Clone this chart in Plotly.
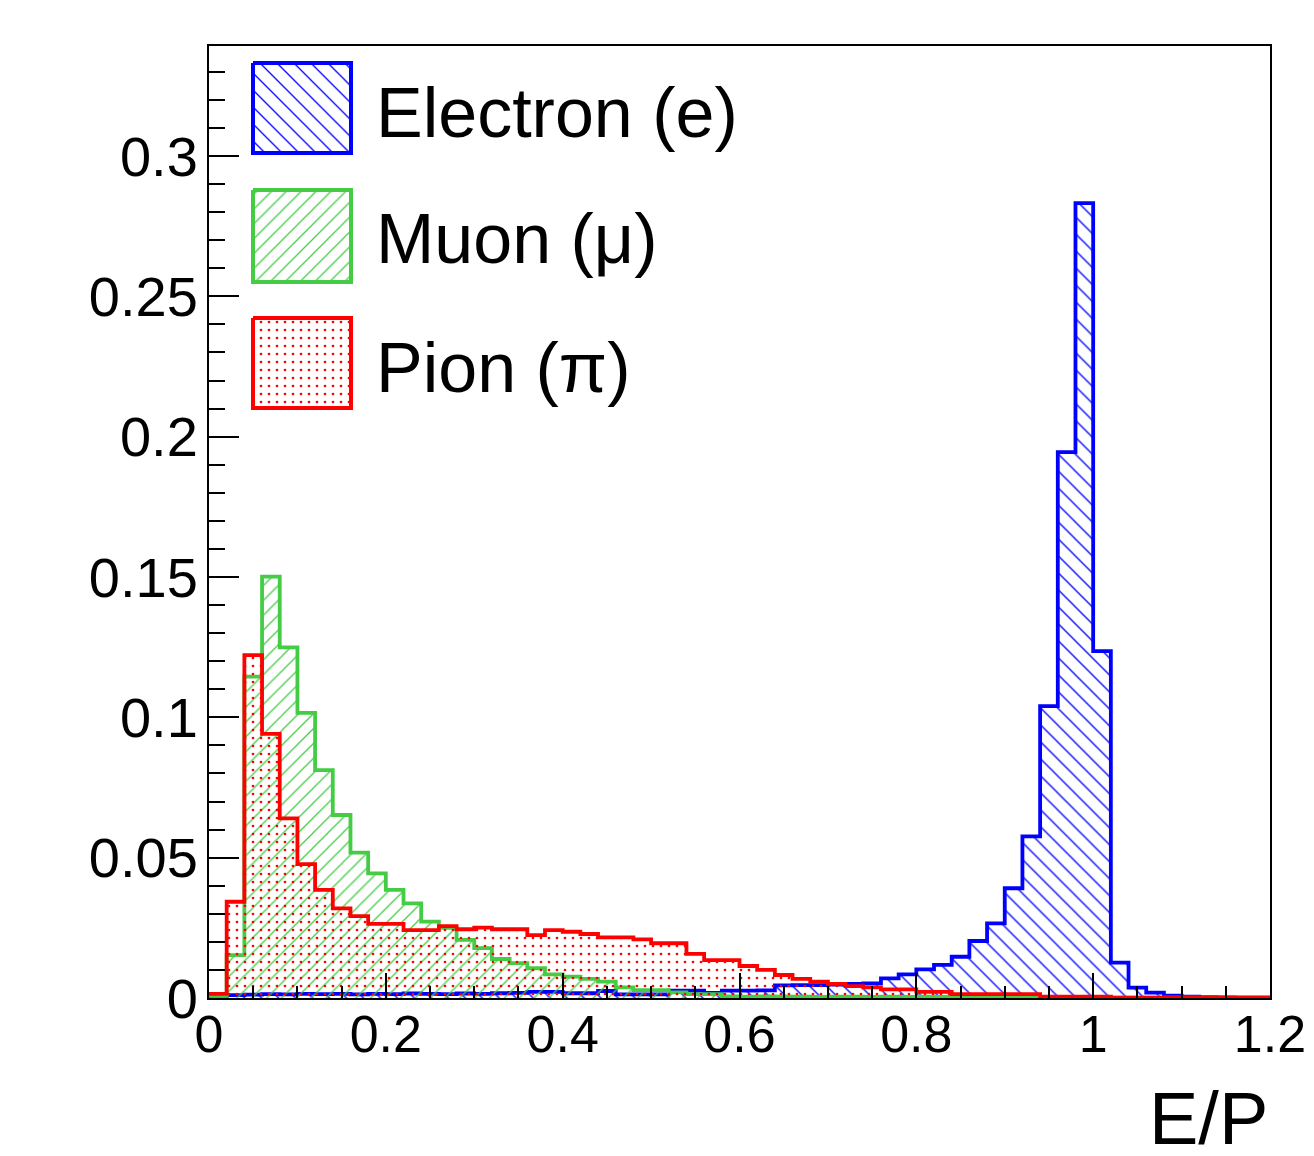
import plotly.graph_objects as go

# ---------------- data ----------------
bin_edges = [round(0.02 * i, 2) for i in range(61)]  # E/P bins, width 0.02

electron = [0.0008, 0.0010, 0.0012, 0.0014, 0.0013, 0.0015, 0.0014, 0.0015, 0.0013, 0.0015,
            0.0014, 0.0016, 0.0015, 0.0014, 0.0016, 0.0015, 0.0017, 0.0018, 0.0022, 0.0022,
            0.0017, 0.0017, 0.0025, 0.0013, 0.0013, 0.0013, 0.0026, 0.0026, 0.0018, 0.0026,
            0.0026, 0.0027, 0.0045, 0.0046, 0.0046, 0.0048, 0.0050, 0.0052, 0.0070, 0.0084,
            0.0102, 0.0118, 0.0147, 0.0203, 0.0266, 0.0391, 0.0576, 0.1040, 0.1945, 0.2832,
            0.1236, 0.0126, 0.0037, 0.0019, 0.0008, 0.0005, 0.0003, 0.0002, 0.0001, 0.0001]

muon = [0.0008, 0.0153, 0.1145, 0.1501, 0.1249, 0.1016, 0.0812, 0.0652, 0.0518, 0.0444,
        0.0385, 0.0337, 0.0272, 0.0250, 0.0207, 0.0178, 0.0139, 0.0124, 0.0106, 0.0084,
        0.0076, 0.0068, 0.0058, 0.0038, 0.0028, 0.0028, 0.0020, 0.0014, 0.0014, 0.0006,
        0.0005, 0.0006, 0.0005, 0.0005, 0.0004, 0.0005, 0.0005, 0.0004, 0.0005, 0.0004,
        0.0005, 0.0004, 0.0004, 0.0005, 0.0004, 0.0004, 0.0003, 0.0004, 0.0003, 0.0003,
        0.0003, 0.0001, 0.0001, 0.0001, 0.0001, 0.0001, 0.0001, 0.0001, 0.0001, 0.0001]

pion = [0.0015, 0.0343, 0.1222, 0.0941, 0.0640, 0.0477, 0.0385, 0.0319, 0.0292, 0.0264,
        0.0264, 0.0242, 0.0242, 0.0256, 0.0245, 0.0251, 0.0245, 0.0245, 0.0224, 0.0242,
        0.0236, 0.0228, 0.0216, 0.0216, 0.0209, 0.0195, 0.0195, 0.0157, 0.0135, 0.0135,
        0.0114, 0.0100, 0.0082, 0.0068, 0.0058, 0.0050, 0.0042, 0.0038, 0.0031, 0.0031,
        0.0022, 0.0022, 0.0014, 0.0014, 0.0014, 0.0014, 0.0014, 0.0005, 0.0005, 0.0005,
        0.0005, 0.0001, 0.0001, 0.0001, 0.0001, 0.0001, 0.0001, 0.0001, 0.0001, 0.0001]

series_names = ["Electron (e)", "Muon (\u03bc)", "Pion (\u03c0)"]
x_tick_vals = [0, 0.2, 0.4, 0.6, 0.8, 1.0, 1.2]
x_tick_text = ["0", "0.2", "0.4", "0.6", "0.8", "1", "1.2"]
y_tick_vals = [0, 0.05, 0.1, 0.15, 0.2, 0.25, 0.3]
y_tick_text = ["0", "0.05", "0.1", "0.15", "0.2", "0.25", "0.3"]
x_title = "E/P"

# ---------------- style ----------------
PAGE_OFF = 8                       # default body margin of the html page
W, H = 1314 - 2 * PAGE_OFF, 1156 - 2 * PAGE_OFF
L, R, T, B = 209, 1270, 46, 998    # frame in page pixels
FONT = "Liberation Sans, Arial, Helvetica, sans-serif"
styles = [
    dict(color="#0000ff", shape="\\", size=12, solidity=0.11),
    dict(color="#44cc44", shape="/", size=10.5, solidity=0.12),
    dict(color="#ff0000", shape=".", size=8, solidity=0.09),
]
datasets = [electron, muon, pion]


def pattern(st):
    return dict(shape=st["shape"], fgcolor=st["color"], fgopacity=1,
                bgcolor="rgba(0,0,0,0)", size=st["size"], solidity=st["solidity"],
                fillmode="overlay")


fig = go.Figure()

for vals, st, name in zip(datasets, styles, series_names):
    xs = bin_edges[:-1] + [bin_edges[-1]]
    ys = list(vals) + [vals[-1]]
    fig.add_trace(go.Scatter(
        x=xs, y=ys, mode="lines", line_shape="hv",
        line=dict(color=st["color"], width=3.8),
        fill="tozeroy", fillcolor="rgba(0,0,0,0)", fillpattern=pattern(st),
        name=name, showlegend=False, hoverinfo="skip",
    ))

# legend drawn on an overlay axis in page-pixel units
box_x0, box_x1 = 253, 351
box_rows = [(63, 153), (190, 282), (318, 408)]
text_y = [113, 239, 368]
for (y0, y1), st, name, ty in zip(box_rows, styles, series_names, text_y):
    fig.add_trace(go.Scatter(
        x=[box_x0, box_x1, box_x1, box_x0, box_x0],
        y=[y0, y0, y1, y1, y0],
        xaxis="x2", yaxis="y2", mode="lines", fill="toself",
        fillcolor="rgba(0,0,0,0)", fillpattern=pattern(st),
        line=dict(color=st["color"], width=4),
        showlegend=False, hoverinfo="skip",
    ))
    fig.add_annotation(x=374, y=ty, xref="x2", yref="y2", text=name, showarrow=False,
                       xanchor="left", yanchor="middle",
                       font=dict(family=FONT, size=70, color="black"))

# axis title (paper coordinates, below the frame)
title_center_page_y = 1118
fig.add_annotation(x=1.0, y=(B - title_center_page_y) / (B - T), xref="paper", yref="paper",
                   text=x_title, showarrow=False, xanchor="right", yanchor="middle",
                   font=dict(family=FONT, size=74, color="black"))

y_top = 0.3 * (B - T) / (B - 156)

fig.update_layout(
    width=W, height=H,
    margin=dict(l=L - PAGE_OFF, r=W - (R - PAGE_OFF), t=T - PAGE_OFF, b=H - (B - PAGE_OFF),
                pad=0, autoexpand=False),
    paper_bgcolor="white", plot_bgcolor="white",
    showlegend=False,
    font=dict(family=FONT, color="black"),
    xaxis=dict(
        range=[0, 1.2], tickmode="array", tickvals=x_tick_vals, ticktext=x_tick_text,
        ticks="inside", ticklen=25, tickwidth=2, tickcolor="black",
        minor=dict(ticks="inside", ticklen=12, tickwidth=2, tickcolor="black", dtick=0.05, tick0=0),
        showgrid=False, zeroline=False, showline=True, linecolor="black", linewidth=2,
        mirror=True, tickfont=dict(size=52, family=FONT, color="black"),
        ticklabelstandoff=-10, ticklabeloverflow="allow", automargin=False,
    ),
    yaxis=dict(
        range=[0, y_top], tickmode="array", tickvals=y_tick_vals, ticktext=y_tick_text,
        ticks="inside", ticklen=30, tickwidth=2, tickcolor="black",
        minor=dict(ticks="inside", ticklen=16, tickwidth=2, tickcolor="black", dtick=0.01, tick0=0),
        showgrid=False, zeroline=False, showline=True, linecolor="black", linewidth=2,
        mirror=True, tickfont=dict(size=56, family=FONT, color="black"),
        ticklabelstandoff=-2, ticklabeloverflow="allow", automargin=False,
    ),
    xaxis2=dict(range=[L, R], overlaying="x", anchor="y2", visible=False, fixedrange=True),
    yaxis2=dict(range=[B, T], overlaying="y", anchor="x2", visible=False, fixedrange=True),
)

fig.write_html("out.html")
